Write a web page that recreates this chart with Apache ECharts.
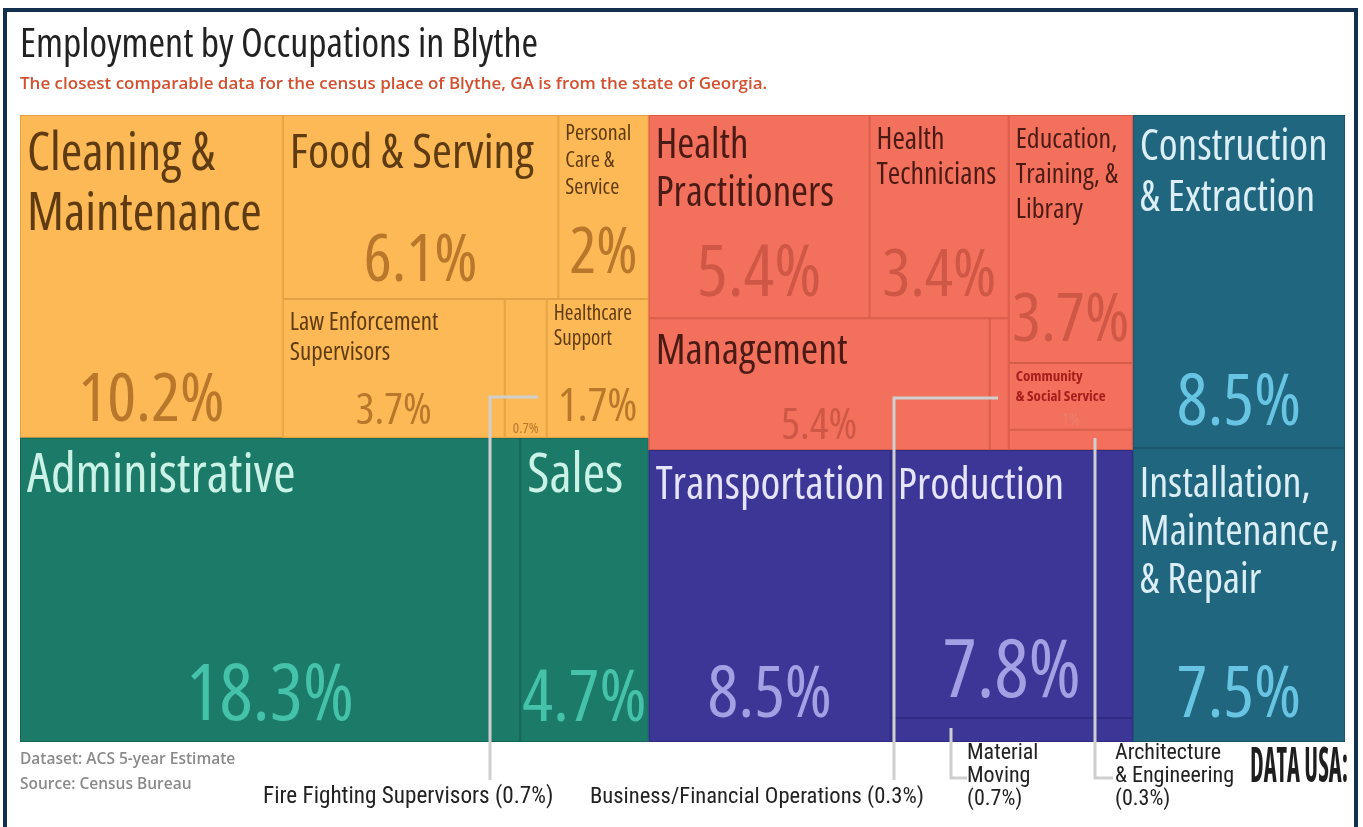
<!DOCTYPE html>
<html lang="en">
<head>
<meta charset="utf-8">
<title>Employment by Occupations in Blythe</title>
<script src="https://cdn.jsdelivr.net/npm/echarts@6/dist/echarts.min.js"></script>
<style>
  html, body { margin: 0; padding: 0; background: #fff; }
  #chart { width: 1363px; height: 827px; }
</style>
</head>
<body>
<div id="chart"></div>
<script>
// share of employment by occupation (%)
var occupations = [
  'Cleaning & Maintenance', 'Food & Serving', 'Personal Care & Service',
  'Law Enforcement Supervisors', 'Fire Fighting Supervisors', 'Healthcare Support',
  'Administrative', 'Sales',
  'Health Practitioners', 'Health Technicians', 'Management', 'Business/Financial Operations',
  'Education, Training, & Library', 'Community & Social Service', 'Architecture & Engineering',
  'Transportation', 'Production', 'Material Moving',
  'Construction & Extraction', 'Installation, Maintenance, & Repair'
];
var shares = [10.2, 6.1, 2, 3.7, 0.7, 1.7, 18.3, 4.7, 5.4, 3.4, 5.4, 0.3, 3.7, 1, 0.3, 8.5, 7.8, 0.7, 8.5, 7.5];

// occupation groups, nested the way the cells are split up
var groupNames = ['Service', 'Sales & Office', 'Professional', 'Production & Transportation', 'Construction & Maintenance'];
var groupTrees = [
  ['Cleaning & Maintenance', [['Food & Serving', 'Personal Care & Service'],
    [['Law Enforcement Supervisors', 'Fire Fighting Supervisors'], 'Healthcare Support']]],
  ['Administrative', 'Sales'],
  [[['Health Practitioners', 'Health Technicians'], ['Management', 'Business/Financial Operations']],
   [['Education, Training, & Library', 'Community & Social Service'], 'Architecture & Engineering']],
  ['Transportation', ['Production', 'Material Moving']],
  ['Construction & Extraction', 'Installation, Maintenance, & Repair']
];

// ---- styling ----
var COND = '"Open Sans", sans-serif';          // drawn with the "condensed" stretch
var NARROW = 'Roboto, "Open Sans", sans-serif';
var SANS = '"Open Sans", "Noto Sans", sans-serif';

var groupStyles = [
  { fill: '#FCB955', line: '#E2A244', name: '#5E3B12', pct: '#B8772B' },
  { fill: '#1C7A69', line: '#166758', name: '#CBF2E7', pct: '#45C2AA' },
  { fill: '#F3705D', line: '#D65B48', name: '#4A1B14', pct: '#CF5745' },
  { fill: '#3C3797', line: '#2F2B82', name: '#E6E4F8', pct: '#A3A0E3' },
  { fill: '#21667F', line: '#1A566C', name: '#DDEFF6', pct: '#68C4E3' }
];

// label text, name size, line height, top padding, percent size, percent bottom padding
var cellText = {
  'Cleaning & Maintenance': ['Cleaning &\nMaintenance', 52, 60, 9, 68, 2],
  'Food & Serving': ['Food & Serving', 48, 56, 10, 66, 4],
  'Personal Care & Service': ['Personal\nCare &\nService', 22, 27, 4, 63, 13],
  'Law Enforcement Supervisors': ['Law Enforcement\nSupervisors', 25, 30, 8, 44, 4],
  'Fire Fighting Supervisors': ['', 0, 0, 0, 15, 2],
  'Healthcare Support': ['Healthcare\nSupport', 21, 25, 1, 46, 7],
  'Administrative': ['Administrative', 54, 63, 6, 78, 5],
  'Sales': ['Sales', 54, 63, 6, 72, 6],
  'Health Practitioners': ['Health\nPractitioners', 41, 48, 6, 72, 7],
  'Health Technicians': ['Health\nTechnicians', 30, 35, 7, 66, 8],
  'Management': ['Management', 42, 49, 8, 44, 2],
  'Business/Financial Operations': ['', 0, 0, 0, 0, 0],
  'Education, Training, & Library': ['Education,\nTraining, &\nLibrary', 28, 35, 7, 68, 7],
  'Community & Social Service': ['Community\n& Social Service', 15, 20, 3, 16, 1],
  'Architecture & Engineering': ['', 0, 0, 0, 0, 0],
  'Transportation': ['Transportation', 45, 52, 9, 72, 10],
  'Production': ['Production', 44, 52, 9, 80, 4],
  'Material Moving': ['', 0, 0, 0, 0, 0],
  'Construction & Extraction': ['Construction\n& Extraction', 43, 51, 6, 72, 8],
  'Installation, Maintenance, & Repair': ['Installation,\nMaintenance,\n& Repair', 42, 48, 12, 72, 10]
};

var CLEAR = 'rgba(0,0,0,0)';

function buildNode(spec, g, kind) {
  var st = groupStyles[g];
  if (typeof spec !== 'string') {
    return {
      name: groupNames[g],
      children: spec.map(function (s) { return buildNode(s, g, kind); }),
      itemStyle: kind === 'name' ? { color: st.fill, borderColor: st.fill } : { color: CLEAR, borderColor: CLEAR }
    };
  }
  var i = occupations.indexOf(spec);
  var cfg = cellText[spec];
  var isCommunity = spec === 'Community & Social Service';
  var item = { name: spec, value: shares[i] };
  if (kind === 'name') {
    item.itemStyle = { color: st.fill, borderColor: st.line, borderWidth: 1 };
    item.label = cfg[1] ? {
      formatter: cfg[0],
      fontSize: cfg[1],
      lineHeight: cfg[2],
      fontWeight: isCommunity ? 'bold condensed' : 'condensed',
      color: isCommunity ? '#A51E1C' : st.name,
      padding: [cfg[3], 6, 0, 6]
    } : { show: false };
  } else {
    item.itemStyle = { color: CLEAR, borderColor: CLEAR, borderWidth: 0 };
    item.label = cfg[4] ? {
      formatter: shares[i] + '%',
      fontSize: cfg[4],
      color: isCommunity ? '#E8806D' : st.pct,
      padding: [0, 0, cfg[5], 0]
    } : { show: false };
  }
  return item;
}

function buildData(kind) {
  return groupTrees.map(function (tree, g) {
    return buildNode(tree, g, kind);
  });
}

var box = { left: 20, top: 115, width: 1325, height: 627 };

var chart = echarts.init(document.getElementById('chart'));

function line(points) {
  return { type: 'polyline', z: 100, shape: { points: points }, style: { stroke: '#CFCFCF', lineWidth: 3, fill: null } };
}
function text(x, y, str, font, color, more) {
  var el = { type: 'text', z: 100, x: x, y: y, style: { text: str, font: font, fill: color, verticalAlign: 'middle' } };
  if (more) {
    for (var k in more) {
      if (k === 'lineHeight') el.style.lineHeight = more[k];
      else el[k] = more[k];
    }
  }
  return el;
}

var option = {
  backgroundColor: '#fff',
  animation: false,
  series: [
    {
      type: 'treemap',
      left: box.left, top: box.top, width: box.width, height: box.height,
      sort: false,
      roam: false,
      nodeClick: false,
      breadcrumb: { show: false },
      itemStyle: { borderWidth: 0, gapWidth: 0, borderColor: '#fff' },
      label: { show: true, position: 'insideTopLeft', fontFamily: COND, fontWeight: 'condensed', overflow: 'none' },
      upperLabel: { show: false },
      emphasis: { disabled: true },
      data: buildData('name')
    },
    {
      type: 'treemap',
      left: box.left, top: box.top, width: box.width, height: box.height,
      sort: false,
      roam: false,
      nodeClick: false,
      silent: true,
      breadcrumb: { show: false },
      itemStyle: { borderWidth: 0, gapWidth: 0, color: CLEAR, borderColor: CLEAR },
      label: { show: true, position: 'insideBottom', fontFamily: COND, fontWeight: 'condensed', overflow: 'none' },
      upperLabel: { show: false },
      emphasis: { disabled: true },
      data: buildData('pct')
    }
  ],
  graphic: [
    { type: 'rect', z: 100, shape: { x: 5, y: 10, width: 1351, height: 840 }, style: { fill: null, stroke: '#12304D', lineWidth: 4 } },
    text(20, 46, 'Employment by Occupations in Blythe', 'condensed 40px ' + COND, '#222'),
    text(20, 84, 'The closest comparable data for the census place of Blythe, GA is from the state of Georgia.', '600 17px ' + SANS, '#D0502F'),
    text(20, 760, 'Dataset: ACS 5-year Estimate', '600 15.5px ' + SANS, '#8A8A8A'),
    text(20, 785, 'Source: Census Bureau', '600 15.5px ' + SANS, '#8A8A8A'),
    line([[538, 397], [490, 397], [490, 780]]),
    line([[998, 398], [894, 398], [894, 780]]),
    line([[951, 728], [951, 778], [967, 778]]),
    line([[1095, 438], [1095, 778], [1113, 778]]),
    text(263, 797, 'Fire Fighting Supervisors (0.7%)', 'condensed 23.2px ' + NARROW, '#222'),
    text(590, 797, 'Business/Financial Operations (0.3%)', 'condensed 22.6px ' + NARROW, '#222'),
    text(967, 776, 'Material\nMoving\n(0.7%)', 'condensed 22px ' + NARROW, '#222', { lineHeight: 23 }),
    text(1115, 776, 'Architecture\n& Engineering\n(0.3%)', 'condensed 22px ' + NARROW, '#222', { lineHeight: 23 }),
    text(1250, 768, 'DATA USA:', 'bold condensed 49px ' + COND, '#1E1E1E', { scaleX: 0.5 })
  ]
};

chart.setOption(option);
</script>
</body>
</html>
